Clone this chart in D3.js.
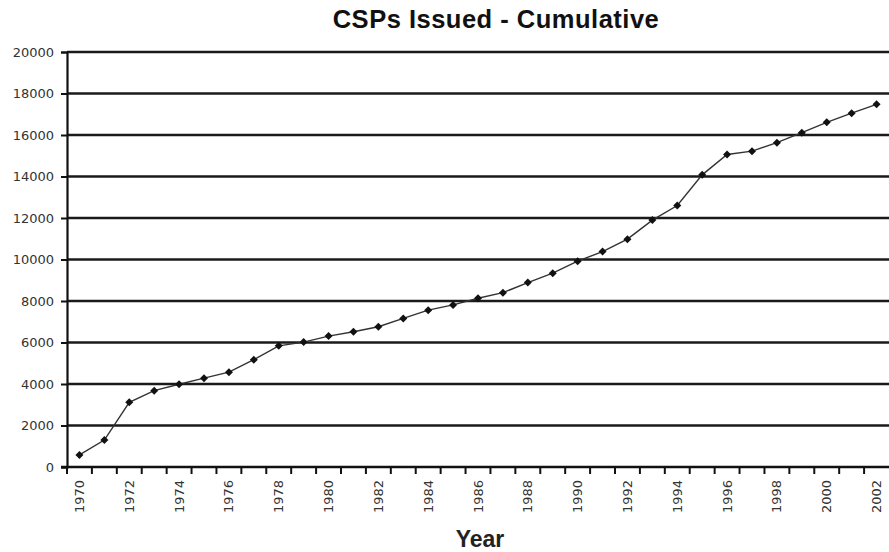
<!DOCTYPE html>
<meta charset="utf-8">
<head>
  <style>
    body { margin: 0; background: #fff; }
    .title { font-family: "Liberation Sans", Arial; font-weight: bold; font-size: 25.5px; fill: #111; letter-spacing: 0.5px; }
    .axis-title { font-family: "Liberation Sans", Arial; font-weight: bold; font-size: 23px; fill: #222; }
    .tick text { font-family: "DejaVu Sans", sans-serif; font-size: 13px; fill: #333; }
  </style>
</head>
<script src="https://d3js.org/d3.v7.min.js"></script>
<div id="chart"></div>
<script>
// data
const years = d3.range(1970, 2003);
const cumulative = [580, 1300, 3120, 3680, 3990, 4280, 4570, 5170, 5840, 6020, 6310, 6520,
  6760, 7160, 7560, 7810, 8130, 8400, 8890, 9340, 9920, 10380, 10980, 11900,
  12600, 14080, 15060, 15220, 15630, 16110, 16610, 17050, 17480];
const yTicks = [0, 2000, 4000, 6000, 8000, 10000, 12000, 14000, 16000, 18000, 20000];
const labelYears = years.filter(y => y % 2 === 0);

const W = 889, H = 552;
const PLOT_L = 67, PLOT_R = 889, PLOT_T = 52, PLOT_B = 467;

const svg = d3.select("#chart").append("svg")
  .attr("width", W)
  .attr("height", H);

const x = d3.scaleBand().domain(years).range([PLOT_L, PLOT_R]).padding(0);
const y = d3.scaleLinear().domain([0, 20000]).range([PLOT_B, PLOT_T]);

// gridlines
svg.append("g")
  .selectAll("line")
  .data(yTicks.filter(d => d > 0))
  .enter().append("line")
  .attr("x1", PLOT_L).attr("x2", PLOT_R)
  .attr("y1", d => y(d)).attr("y2", d => y(d))
  .attr("stroke", "#1a1a1a")
  .attr("stroke-width", 2.4);

// y axis
const yAxis = svg.append("g")
  .attr("class", "y-axis")
  .attr("transform", `translate(${PLOT_L},0)`)
  .call(d3.axisLeft(y).tickValues(yTicks).tickSize(6).tickPadding(7).tickFormat(d3.format("d")));
yAxis.select(".domain").attr("stroke", "#111").attr("stroke-width", 2.2);
yAxis.selectAll(".tick line").attr("stroke", "#111").attr("stroke-width", 2);

// x axis baseline + boundary ticks
svg.append("line")
  .attr("x1", PLOT_L - 6).attr("x2", PLOT_R)
  .attr("y1", PLOT_B).attr("y2", PLOT_B)
  .attr("stroke", "#111").attr("stroke-width", 2.4);
svg.append("g")
  .selectAll("line")
  .data(years)
  .enter().append("line")
  .attr("x1", d => x(d)).attr("x2", d => x(d))
  .attr("y1", PLOT_B).attr("y2", PLOT_B + 7)
  .attr("stroke", "#111").attr("stroke-width", 2);

// x labels, rotated
const xAxis = svg.append("g")
  .attr("transform", `translate(0,${PLOT_B})`)
  .call(d3.axisBottom(x).tickValues(labelYears).tickSize(0).tickFormat(d3.format("d")));
xAxis.select(".domain").remove();
xAxis.selectAll(".tick text")
  .attr("transform", "rotate(-90)")
  .attr("text-anchor", "end")
  .attr("x", -13)
  .attr("y", 0)
  .attr("dy", "0.35em");

// line
const cx = d => x(d) + x.bandwidth() / 2;
const line = d3.line()
  .x((d, i) => cx(years[i]))
  .y(d => y(d));

svg.append("path")
  .datum(cumulative)
  .attr("fill", "none")
  .attr("stroke", "#333")
  .attr("stroke-width", 1.4)
  .attr("d", line);

// diamond markers (squares turned 45 degrees)
svg.append("g")
  .selectAll("path")
  .data(cumulative)
  .enter().append("path")
  .attr("d", d3.symbol().type(d3.symbolSquare).size(32))
  .attr("transform", (d, i) => `translate(${cx(years[i])},${y(d)}) rotate(45)`)
  .attr("fill", "#111");

// titles
svg.append("text")
  .attr("class", "title")
  .attr("x", 496).attr("y", 28)
  .attr("text-anchor", "middle")
  .text("CSPs Issued - Cumulative");

svg.append("text")
  .attr("class", "axis-title")
  .attr("x", 480).attr("y", 547)
  .attr("text-anchor", "middle")
  .text("Year");
</script>
